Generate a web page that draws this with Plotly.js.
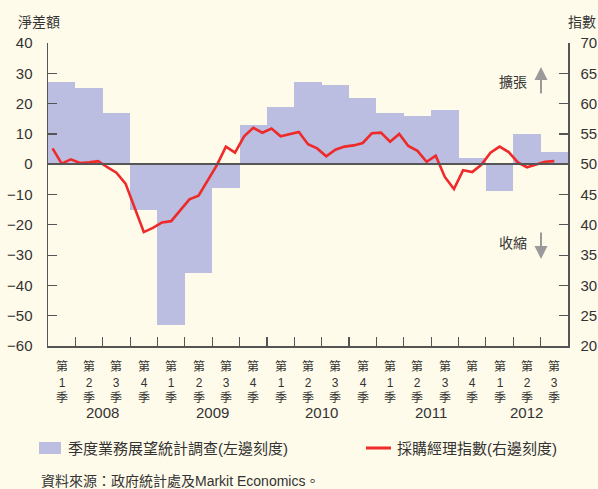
<!DOCTYPE html>
<html>
<head>
<meta charset="utf-8">
<script src="https://cdn.plot.ly/plotly-3.0.1.min.js"></script>
<style>
  html, body { margin: 0; padding: 0; background: #FFFBEA; }
  #chart { width: 598px; height: 489px; }
</style>
</head>
<body>
<div id="chart"></div>
<script>
// quarterly survey net balance (left scale), 2008 Q1 - 2012 Q3
const quarterNums = ['1', '2', '3', '4', '1', '2', '3', '4', '1', '2', '3', '4', '1', '2', '3', '4', '1', '2', '3'];
const surveyNet = [27, 25, 17, -15, -53, -36, -8, 13, 19, 27, 26, 22, 17, 16, 18, 2, -9, 10, 4];

// monthly PMI (right scale), Jan 2008 - Aug 2012
const pmi = [
  52.6, 50.1, 50.8, 50.2, 50.3, 50.5, 49.5, 48.6, 46.8, 42.8, 38.8, 39.5,
  40.4, 40.6, 42.4, 44.2, 44.8, 47.4, 49.8, 52.9, 51.9, 54.6, 56.0, 55.2,
  55.9, 54.6, 55.0, 55.3, 53.3, 52.6, 51.3, 52.4, 52.9, 53.1, 53.5, 55.1,
  55.2, 53.7, 55.0, 53.0, 52.2, 50.4, 51.4, 47.9, 45.9, 49.0, 48.7, 49.9,
  51.9, 52.9, 52.0, 50.3, 49.5, 49.9, 50.4, 50.5
];

const years = ['2008', '2009', '2010', '2011', '2012'];
const yearMid = [6, 18, 30, 42, 52.5];   // in months from Jan 2008

const surveyName = '季度業務展望統計調查(左邊刻度)';
const pmiName = '採購經理指數(右邊刻度)';
const sourceText = '資料來源：政府統計處及Markit Economics。';

const FONT = 'Liberation Sans, Arial, "Noto Sans CJK TC", sans-serif';
const INK = '#333333';
const AXIS = '#555555';
const BAR = '#BBBEE0';
const RED = '#EE2A2A';

// plot box in pixels
const L = 48, R = 568, T = 43, B = 346;
const xp = px => (px - L) / (R - L);
const yp = py => (B - py) / (B - T);
const monthPx = m => L + m * (R - L) / 57;

const barX = surveyNet.map((v, i) => i * 3 + 1.5);
const lineX = pmi.map((v, i) => i + 0.5);
const boundaries = quarterNums.map((q, i) => i * 3).slice(1);

const traces = [
  {
    type: 'bar',
    name: surveyName,
    x: barX,
    y: surveyNet,
    width: 3,
    marker: { color: BAR, line: { width: 0 } },
    hoverinfo: 'y'
  },
  {
    type: 'scatter',
    mode: 'lines',
    name: pmiName,
    x: lineX,
    y: pmi,
    yaxis: 'y2',
    line: { color: RED, width: 2.6 },
    hoverinfo: 'y'
  }
];

const annotations = [];
const txt = (text, x, y, xanchor, size, yanchor) => annotations.push({
  text: text, xref: 'paper', yref: 'paper', x: x, y: y,
  xanchor: xanchor || 'center', yanchor: yanchor || 'middle', showarrow: false,
  font: { family: FONT, size: size || 14, color: INK }
});

// quarter labels (第 / n / 季 stacked)
quarterNums.forEach((q, i) => {
  txt('第<br>' + q + '<br>季', xp(monthPx(i * 3 + 1.5)), yp(357), 'center', 12, 'top');
});
years.forEach((y, i) => txt(y, xp(monthPx(yearMid[i])), yp(413), 'center', 15));

txt('淨差額', xp(16), yp(22), 'left');
txt('指數', xp(598), yp(22), 'right');
txt('擴張', xp(529), yp(82), 'right');
txt('收縮', xp(529), yp(243), 'right');
txt(sourceText, xp(39), yp(481), 'left');

// hand-made legend
txt(surveyName, xp(66), yp(448), 'left', 15);
txt(pmiName, xp(395), yp(448), 'left', 15);
const shapes = [
  { type: 'rect', xref: 'paper', yref: 'paper', x0: xp(39), x1: xp(61), y0: yp(454), y1: yp(442),
    fillcolor: BAR, line: { width: 0 } },
  { type: 'line', xref: 'paper', yref: 'paper', x0: xp(366), x1: xp(391), y0: yp(448), y1: yp(448),
    line: { color: RED, width: 3 } }
];

// expansion / contraction arrows
annotations.push({
  xref: 'paper', yref: 'paper', x: xp(541), y: yp(67), ax: 0, ay: 28,
  text: '', showarrow: true, arrowhead: 2, arrowsize: 1.3, arrowwidth: 2, arrowcolor: '#9A9A9A'
});
annotations.push({
  xref: 'paper', yref: 'paper', x: xp(541), y: yp(259), ax: 0, ay: -28,
  text: '', showarrow: true, arrowhead: 2, arrowsize: 1.3, arrowwidth: 2, arrowcolor: '#9A9A9A'
});

const layout = {
  width: 598,
  height: 489,
  margin: { l: L, r: 598 - R, t: T, b: 489 - B },
  paper_bgcolor: '#FFFBEA',
  plot_bgcolor: '#FFFBEA',
  font: { family: FONT, size: 14, color: INK },
  bargap: 0,
  showlegend: false,
  xaxis: {
    range: [0, 57],
    tickvals: boundaries,
    ticks: 'inside', ticklen: 9, tickwidth: 1.2, tickcolor: AXIS,
    showticklabels: false,
    showline: true, linecolor: AXIS, linewidth: 1.5,
    showgrid: false, zeroline: false, fixedrange: true
  },
  yaxis: {
    range: [-60, 40],
    tickvals: [-60, -50, -40, -30, -20, -10, 0, 10, 20, 30, 40],
    ticks: 'inside', ticklen: 9, tickwidth: 1.2, tickcolor: AXIS,
    tickfont: { family: FONT, size: 15, color: INK },
    ticklabelstandoff: 11,
    showline: true, linecolor: AXIS, linewidth: 1.5,
    showgrid: false,
    zeroline: true, zerolinecolor: AXIS, zerolinewidth: 2,
    zerolinelayer: 'above traces',
    fixedrange: true
  },
  yaxis2: {
    overlaying: 'y', side: 'right',
    range: [20, 70],
    tickvals: [20, 25, 30, 35, 40, 45, 50, 55, 60, 65, 70],
    ticks: 'inside', ticklen: 9, tickwidth: 1.2, tickcolor: AXIS,
    tickfont: { family: FONT, size: 15, color: INK },
    ticklabelstandoff: 8,
    showline: true, linecolor: AXIS, linewidth: 1.5,
    showgrid: false, zeroline: false, fixedrange: true
  },
  shapes: shapes,
  annotations: annotations
};

Plotly.newPlot('chart', traces, layout, { displayModeBar: false, staticPlot: true });
</script>
</body>
</html>
